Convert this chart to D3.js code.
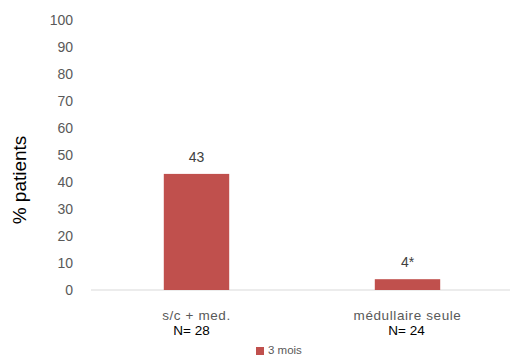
<!DOCTYPE html>
<html><head><meta charset="utf-8">
<script src="https://cdn.jsdelivr.net/npm/d3@7"></script>
<style>body{margin:0;background:#fff}svg{display:block}</style>
</head><body>
<script>
const categories = ["s/c + med.", "médullaire seule"];
const nLabels = ["N= 28", "N= 24"];
const values = [43, 4];
const valueLabels = ["43", "4*"];
const yTicks = [0,10,20,30,40,50,60,70,80,90,100];
const seriesName = "3 mois";

const W = 510, H = 357;
const svg = d3.select("body").append("svg").attr("width", W).attr("height", H);
const x = d3.scaleBand().domain(categories).range([91, 513]).paddingInner(0.69).paddingOuter(0.345);
const y = d3.scaleLinear().domain([0, 100]).range([290, 20]);
const ff = "'Liberation Sans', Arial, sans-serif";

svg.append("g").selectAll("text").data(yTicks).join("text")
  .attr("x", 73).attr("y", d => y(d)).attr("dy", "0.35em")
  .attr("text-anchor", "end").attr("font-family", ff)
  .attr("font-size", 14).attr("fill", "#595959").text(d => d);

svg.append("line").attr("x1", 91).attr("x2", 510).attr("y1", y(0)).attr("y2", y(0))
  .attr("stroke", "#d9d9d9").attr("stroke-width", 1);

svg.append("g").selectAll("rect").data(values).join("rect")
  .attr("x", (d, i) => x(categories[i])).attr("width", x.bandwidth())
  .attr("y", d => y(d)).attr("height", d => y(0) - y(d)).attr("fill", "#C0504D");

svg.append("g").selectAll("text").data(values).join("text")
  .attr("x", (d, i) => x(categories[i]) + x.bandwidth() / 2).attr("y", d => y(d) - 12)
  .attr("text-anchor", "middle").attr("font-family", ff)
  .attr("font-size", 14).attr("fill", "#404040").text((d, i) => valueLabels[i]);

svg.append("g").selectAll("text").data(categories).join("text")
  .attr("x", d => x(d) + x.bandwidth() / 2).attr("y", 320)
  .attr("text-anchor", "middle").attr("font-family", ff)
  .attr("font-size", 13.5).attr("letter-spacing", 0.6).attr("fill", "#595959").text(d => d);
svg.append("g").selectAll("text").data(nLabels).join("text")
  .attr("x", (d, i) => x(categories[i]) + x.bandwidth() / 2 - (i === 0 ? 5 : 1)).attr("y", 335)
  .attr("text-anchor", "middle").attr("font-family", ff)
  .attr("font-size", 13.5).attr("fill", "#000").text(d => d);

svg.append("text").attr("transform", "translate(26,180) rotate(-90)")
  .attr("text-anchor", "middle").attr("font-family", ff)
  .attr("font-size", 19).attr("fill", "#000").text("% patients");

svg.append("rect").attr("x", 256).attr("y", 347).attr("width", 8).attr("height", 8).attr("fill", "#C0504D");
svg.append("text").attr("x", 268).attr("y", 354).attr("font-family", ff)
  .attr("font-size", 11.5).attr("fill", "#595959").text(seriesName);
</script>
</body></html>
